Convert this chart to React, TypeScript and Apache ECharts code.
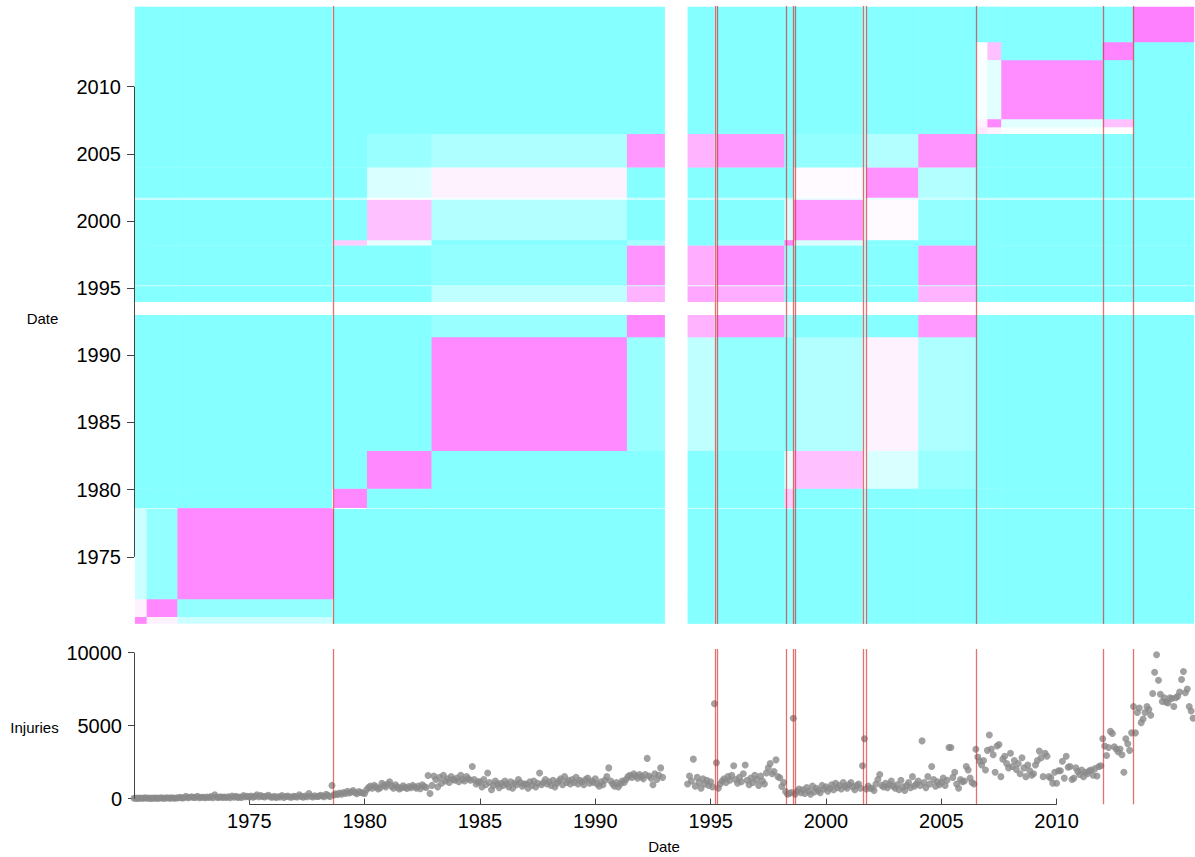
import React, { useEffect, useRef } from "react";
import * as echarts from "echarts";

// ---------- axis ticks ----------
const dateTicks = [1975, 1980, 1985, 1990, 1995, 2000, 2005, 2010];
const injuryTicks = [0, 5000, 10000];

// ---------- detected change points (decimal years) ----------
const changePoints = [1978.64, 1995.21, 1995.27, 1998.26, 1998.6, 1998.67, 2001.61, 2001.76, 2006.51, 2012.01, 2013.33];

// ---------- similarity matrix, block structure ----------
// segments (decimal years) — 1993 is missing
const segStart = [1970.04, 1970.55, 1971.88, 1978.583, 1978.667, 1980.1, 1982.9, 1991.37, 1994.0, 1995.167, 1995.25, 1998.2, 1998.6, 2001.6, 2001.75, 2004.0, 2006.5, 2007.0, 2007.6, 2012.0, 2013.33];
const segEnd = [1970.55, 1971.88, 1978.583, 1978.667, 1980.1, 1982.9, 1991.37, 1993.0, 1995.167, 1995.25, 1998.2, 1998.6, 2001.6, 2001.75, 2004.0, 2006.5, 2007.0, 2007.6, 2012.0, 2013.33, 2015.95];
// within-segment similarity (0 = cyan, 0.5 = white, 1 = magenta)
const segDiag = [0.97, 0.97, 0.96, 0.5, 0.97, 0.97, 0.96, 0.97, 0.85, 0.5, 0.95, 0.97, 0.9, 0.5, 0.93, 0.92, 0.6, 0.97, 0.95, 0.98, 1.0];
// default similarity of a segment to unrelated segments
const segBaseline = [0.02, 0.02, 0.02, 0.3, 0.02, 0.02, 0.02, 0.02, 0.02, 0.3, 0.02, 0.02, 0.02, 0.3, 0.02, 0.02, 0.02, 0.02, 0.02, 0.02, 0.02];
// between-segment similarities [segA, segB, value]
const segPairs = [
  [0, 1, 0.55], [0, 2, 0.3], [1, 2, 0.08],
  [2, 3, 0.9], [3, 4, 0.5],
  [4, 11, 0.7],
  [5, 11, 0.4], [5, 12, 0.75], [5, 13, 0.5], [5, 14, 0.35], [5, 15, 0.1],
  [6, 7, 0.1], [6, 8, 0.25], [6, 10, 0.08], [6, 12, 0.2], [6, 13, 0.45], [6, 14, 0.55], [6, 15, 0.18],
  [7, 8, 0.8], [7, 10, 0.92], [7, 11, 0.15], [7, 15, 0.9],
  [8, 9, 0.42], [8, 10, 0.82], [8, 15, 0.8],
  [9, 10, 0.42],
  [10, 11, 0.1], [10, 15, 0.9],
  [11, 12, 0.35],
  [12, 13, 0.4], [12, 14, 0.52], [12, 15, 0.08],
  [13, 14, 0.4],
  [14, 15, 0.2],
  [16, 17, 0.55], [16, 18, 0.47], [16, 19, 0.5],
  [17, 18, 0.38], [17, 19, 0.75],
];

// ---------- monthly injuries ----------
const injuries1970to1979 = [
  20, 30, 10, 40, 20, 30, 50, 20, 30, 10, 40, 30,
  30, 20, 50, 30, 20, 60, 40, 30, 50, 20, 40, 60,
  80, 40, 60, 150, 60, 90, 120, 70, 80, 160, 60, 90,
  90, 60, 110, 70, 130, 60, 250, 90, 70, 120, 80, 100,
  70, 120, 60, 180, 90, 150, 80, 110, 70, 200, 120, 160,
  100, 180, 90, 150, 250, 120, 200, 140, 100, 180, 230, 110,
  90, 150, 70, 120, 100, 200, 80, 140, 180, 110, 90, 160,
  130, 100, 250, 150, 90, 180, 120, 350, 160, 100, 190, 140,
  150, 230, 180, 120, 300, 200, 140, 900, 250, 320, 280, 380,
  300, 420, 350, 500, 380, 450, 550, 400, 330, 480, 420, 380,
];
const injuries1980to1989 = [
  350, 600, 750, 850, 700, 900, 800, 650, 720, 1050, 900, 800,
  1000, 1150, 850, 700, 950, 800, 650, 720, 880, 760, 690, 820,
  750, 900, 800, 700, 850, 680, 950, 820, 760, 1580, 350, 900,
  1550, 1300, 800, 1450, 1050, 1600, 1200, 1350, 1100, 1500, 1300, 1250,
  1400, 1150, 1600, 1300, 1200, 1500, 1350, 1250, 2200, 1300, 1000, 1150,
  1150, 800, 1300, 950, 1750, 1100, 600, 900, 1200, 1000, 750, 1050,
  900, 1200, 1000, 800, 1150, 700, 1050, 950, 1300, 1100, 850, 1000,
  1000, 700, 1150, 900, 1200, 800, 1050, 1750, 950, 1100, 1300, 1000,
  1150, 900, 1250, 800, 1050, 1200, 1350, 950, 1500, 1100, 1250, 1000,
  1300, 1100, 1450, 1000, 1250, 1150, 950, 1300, 1400, 1050, 1200, 1100,
];
const injuries1990to1992 = [
  1350, 1000, 850, 1150, 950, 1250, 1500, 2100, 1200, 1000, 850, 1100,
  800, 1000, 1200, 1100, 1300, 1500, 1600, 1450, 1700, 1550, 1400, 1650,
  1500, 1350, 1650, 2750, 1550, 1400, 950, 1700, 1300, 1600, 2100, 1450,
];
const injuries1994to1999 = [
  1000, 1550, 1200, 2700, 850, 1450, 1100, 700, 1350, 1000, 1250, 900,
  1150, 800, 6500, 2450, 700, 1000, 1200, 1350, 1100, 1500, 1250, 1600,
  2250, 1300, 1050, 1450, 1150, 1700, 2300, 1250, 950, 1400, 1100, 1600,
  1300, 900, 1550, 1200, 1000, 1750, 2100, 2400, 1700, 1850, 2650, 1500,
  1430, 820, 1100, 480, 300, 350, 420, 5500, 300, 500, 650, 400,
  600, 350, 750, 500, 300, 850, 450, 700, 550, 400, 900, 650,
];
const injuries2000to2009 = [
  800, 500, 700, 950, 600, 1050, 750, 900, 650, 1100, 850, 700,
  950, 1100, 800, 600, 900, 1000, 700, 2250, 4100, 650, 850, 700,
  700, 550, 1000, 1300, 1650, 900, 800, 1050, 750, 950, 1200, 850,
  700, 950, 600, 1250, 800, 550, 900, 1100, 750, 1500, 850, 1000,
  1200, 900, 3950, 1100, 750, 1500, 1000, 2200, 1300, 850, 1150, 950,
  1100, 1400, 900, 1250, 3500, 3500, 1450, 1800, 1000, 700, 1300, 1150,
  1200, 2200, 1950, 1400, 1100, 1000, 3380, 2850, 2550, 2300, 2600, 1950,
  3300, 4350, 3400, 3000, 1800, 3600, 3700, 1500, 2700, 2900, 2400, 2100,
  3100, 2200, 2600, 2000, 2400, 1700, 2800, 2100, 1500, 2300, 1900, 1600,
  1700, 2300, 2600, 3250, 2800, 1500, 3100, 2900, 1500, 1400, 1050, 1800,
];
const injuries2010to2015 = [
  1050, 1900, 1900, 2550, 1400, 2900, 2150, 2200, 1300, 1400, 2100, 1850,
  1650, 1950, 1500, 1800, 1700, 1900, 1950, 1600, 2050, 1550, 2200, 2250,
  4100, 3600, 2950, 3500, 4600, 4450, 3550, 3400, 3200, 3400, 3000, 1800,
  4100, 3750, 3300, 4500, 6300, 4500, 5900, 6200, 5200, 5450, 5900, 6300,
  6100, 5700, 7200, 8650, 9850, 8100, 7150, 6650, 6900, 6600, 6550, 6900,
  6850, 6300, 6900, 7000, 7300, 8150, 8700, 7250, 7500, 6300, 6000, 5500,
];

const FONT = "'Liberation Sans', Arial, Helvetica, sans-serif";

function monthly(startYear: number, values: number[]) {
  return values.map((v, i) => [startYear + i / 12, v]);
}

function buildCells() {
  const n = segStart.length;
  const pairMap: Record<string, number> = {};
  segPairs.forEach(([a, b, v]) => {
    pairMap[a + "_" + b] = v;
    pairMap[b + "_" + a] = v;
  });
  const cells: number[][] = [];
  for (let i = 0; i < n; i++) {
    for (let j = 0; j < n; j++) {
      let v: number;
      if (i === j) v = segDiag[i];
      else if (pairMap[i + "_" + j] !== undefined) v = pairMap[i + "_" + j];
      else v = Math.max(segBaseline[i], segBaseline[j]);
      cells.push([segStart[i], segEnd[i], segStart[j], segEnd[j], v]);
    }
  }
  return cells;
}

export default function App() {
  const ref = useRef<HTMLDivElement>(null);

  useEffect(() => {
    if (!ref.current) return;
    const chart = echarts.init(ref.current, undefined, { renderer: "svg" });

    const points = [
      ...monthly(1970, injuries1970to1979),
      ...monthly(1980, injuries1980to1989),
      ...monthly(1990, injuries1990to1992),
      ...monthly(1994, injuries1994to1999),
      ...monthly(2000, injuries2000to2009),
      ...monthly(2010, injuries2010to2015),
    ];

    const redLine = { color: "rgba(210,40,40,0.65)", width: 1.3, type: "solid" as const };
    const axisLineStyle = { color: "#444", width: 1, type: "solid" as const };

    const option: any = {
      animation: false,
      backgroundColor: "#ffffff",
      textStyle: { fontFamily: FONT },
      grid: [
        { left: 134, top: 6, width: 1061, height: 618 },
        { left: 134, top: 649, width: 1061, height: 155.3 },
      ],
      xAxis: [
        { gridIndex: 0, type: "value", min: 1970, max: 2016, show: false },
        {
          gridIndex: 1,
          type: "value",
          min: 1970,
          max: 2016,
          axisLine: { show: false },
          splitLine: { show: false },
          axisTick: { show: true, customValues: dateTicks, length: 6, lineStyle: { color: "#444" } },
          axisLabel: {
            customValues: dateTicks,
            fontSize: 20,
            color: "#000",
            margin: 7,
            fontFamily: FONT,
            formatter: (v: number) => String(v),
          },
        },
      ],
      yAxis: [
        {
          gridIndex: 0,
          type: "value",
          min: 1970,
          max: 2016,
          axisLine: { show: false },
          splitLine: { show: false },
          axisTick: { show: true, customValues: dateTicks, length: 7, lineStyle: { color: "#444" } },
          axisLabel: {
            customValues: dateTicks,
            fontSize: 20,
            color: "#000",
            margin: 13,
            fontFamily: FONT,
            formatter: (v: number) => String(v),
          },
        },
        {
          gridIndex: 1,
          type: "value",
          min: -394,
          max: 10244,
          axisLine: { show: false },
          splitLine: { show: false },
          axisTick: { show: true, customValues: injuryTicks, length: 6, lineStyle: { color: "#444" } },
          axisLabel: {
            customValues: injuryTicks,
            fontSize: 20,
            color: "#000",
            margin: 12,
            fontFamily: FONT,
            formatter: (v: number) => String(v),
          },
        },
      ],
      visualMap: {
        type: "continuous",
        show: false,
        min: 0,
        max: 1,
        dimension: 4,
        seriesIndex: 0,
        inRange: { color: ["#80FFFF", "#FFFFFF", "#FF80FF"] },
      },
      series: [
        {
          type: "custom",
          xAxisIndex: 0,
          yAxisIndex: 0,
          dimensions: ["x0", "x1", "y0", "y1", "sim"],
          encode: { x: [0, 1], y: [2, 3] },
          data: buildCells(),
          renderItem: (params: any, api: any) => {
            const a = api.coord([api.value(0), api.value(3)]);
            const b = api.coord([api.value(1), api.value(2)]);
            return {
              type: "rect",
              shape: { x: a[0], y: a[1], width: b[0] - a[0] + 0.4, height: b[1] - a[1] + 0.4 },
              style: { fill: api.visual("color") },
            };
          },
          markLine: {
            silent: true,
            symbol: ["none", "none"],
            label: { show: false },
            lineStyle: redLine,
            data: [
              ...changePoints.map((v) => ({ xAxis: v })),
              [
                { coord: [1970, 1975], lineStyle: axisLineStyle },
                { coord: [1970, 2010] },
              ],
            ],
          },
        },
        {
          type: "scatter",
          xAxisIndex: 1,
          yAxisIndex: 1,
          symbolSize: 7,
          itemStyle: { color: "#8a8a8a" },
          data: points,
          markLine: {
            silent: true,
            symbol: ["none", "none"],
            label: { show: false },
            lineStyle: redLine,
            data: [
              ...changePoints.map((v) => ({ xAxis: v })),
              [
                { coord: [1970, 0], lineStyle: axisLineStyle },
                { coord: [1970, 10000] },
              ],
              [
                { coord: [1975, -394], lineStyle: axisLineStyle },
                { coord: [2010, -394] },
              ],
            ],
          },
        },
      ],
      graphic: [
        {
          type: "text",
          x: 42.5,
          y: 318,
          style: { text: "Date", fontSize: 15, fontFamily: FONT, fill: "#000", align: "center", verticalAlign: "middle", textAlign: "center", textVerticalAlign: "middle" },
        },
        {
          type: "text",
          x: 34.5,
          y: 727,
          style: { text: "Injuries", fontSize: 15, fontFamily: FONT, fill: "#000", align: "center", verticalAlign: "middle", textAlign: "center", textVerticalAlign: "middle" },
        },
        {
          type: "text",
          x: 664,
          y: 846,
          style: { text: "Date", fontSize: 15, fontFamily: FONT, fill: "#000", align: "center", verticalAlign: "middle", textAlign: "center", textVerticalAlign: "middle" },
        },
      ],
    };

    chart.setOption(option);
    return () => chart.dispose();
  }, []);

  return (
    <div
      ref={ref}
      style={{ position: "fixed", left: 0, top: 0, width: 1195, height: 857, background: "#fff" }}
    />
  );
}
